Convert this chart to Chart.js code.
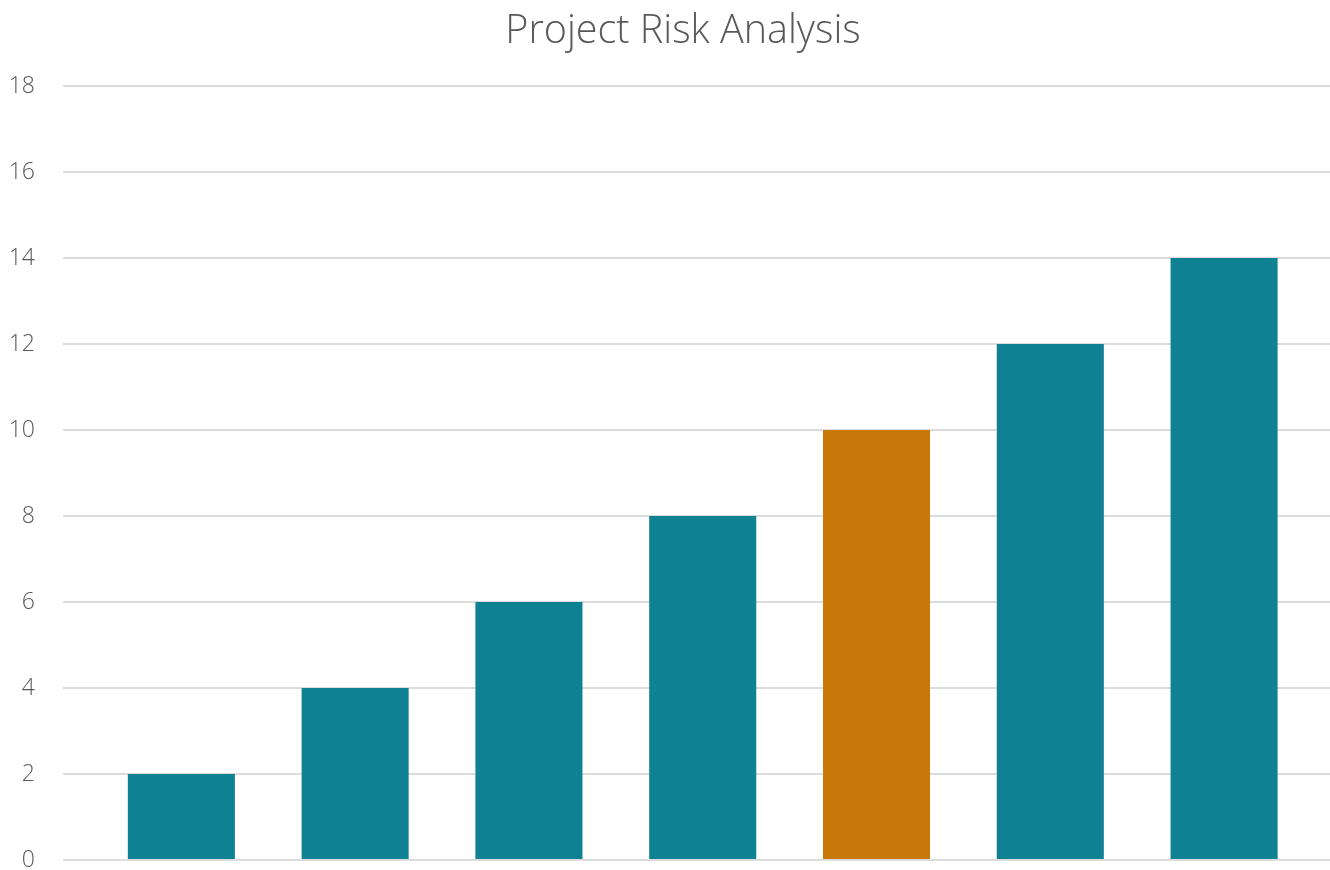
<!DOCTYPE html>
<html>
<head>
<meta charset="utf-8">
<title>Project Risk Analysis</title>
<script src="https://cdn.jsdelivr.net/npm/chart.js@4/dist/chart.umd.min.js"></script>
<style>
    html, body {
        margin: 0;
        padding: 0;
        background: #ffffff;
        overflow: hidden;
    }
    /* the plot runs past the right edge of the window, as in the original */
    #chart-wrap {
        width: 1356px;
        height: 870px;
    }
</style>
</head>
<body>
<div id="chart-wrap">
    <canvas id="myChart"></canvas>
</div>
<script>
// Chart data
const categories = ['Risk 1', 'Risk 2', 'Risk 3', 'Risk 4', 'Risk 5', 'Risk 6', 'Risk 7'];
const positions = [1, 2, 3, 4, 5, 6, 7];
const riskScores = [2, 4, 6, 8, 10, 12, 14];
const barColors = ['#0e8193', '#0e8193', '#0e8193', '#0e8193', '#c9780a', '#0e8193', '#0e8193'];
const yTicks = [0, 2, 4, 6, 8, 10, 12, 14, 16, 18];

const fontFamily = "'Open Sans', 'Noto Sans', sans-serif";
const textColor = '#595959';

const ctx = document.getElementById('myChart').getContext('2d');

const chart = new Chart(ctx, {
    type: 'bar',
    data: {
        datasets: [{
            label: 'Risk score',
            data: positions.map((x, i) => ({ x: x, y: riskScores[i] })),
            backgroundColor: barColors,
            borderWidth: 0,
            barPercentage: 1,
            categoryPercentage: 0.616
        }]
    },
    options: {
        responsive: true,
        maintainAspectRatio: false,
        animation: false,
        layout: {
            padding: { left: 10, right: 0, top: 0, bottom: 0 }
        },
        plugins: {
            legend: { display: false },
            tooltip: {
                callbacks: {
                    title: items => categories[items[0].dataIndex]
                }
            },
            title: {
                display: true,
                text: 'Project Risk Analysis',
                color: textColor,
                font: { family: fontFamily, size: 39.5, weight: '300' },
                padding: { top: 8, bottom: 30.6 }
            }
        },
        scales: {
            x: {
                type: 'linear',
                display: false,
                offset: false,
                min: 0.319,
                max: 7.759,
                afterBuildTicks: scale => {
                    scale.ticks = positions.map(v => ({ value: v }));
                }
            },
            y: {
                min: 0,
                max: 18,
                afterBuildTicks: scale => {
                    scale.ticks = yTicks.map(v => ({ value: v }));
                },
                afterFit: scale => {
                    scale.width = 53;
                    scale.paddingTop = 0;
                    scale.paddingBottom = 10;
                },
                border: { display: false },
                grid: {
                    color: '#dcdcdc',
                    lineWidth: 2,
                    drawTicks: false
                },
                ticks: {
                    color: textColor,
                    padding: 28,
                    font: { family: fontFamily, size: 23, weight: '300' }
                }
            }
        }
    }
});
</script>
</body>
</html>
